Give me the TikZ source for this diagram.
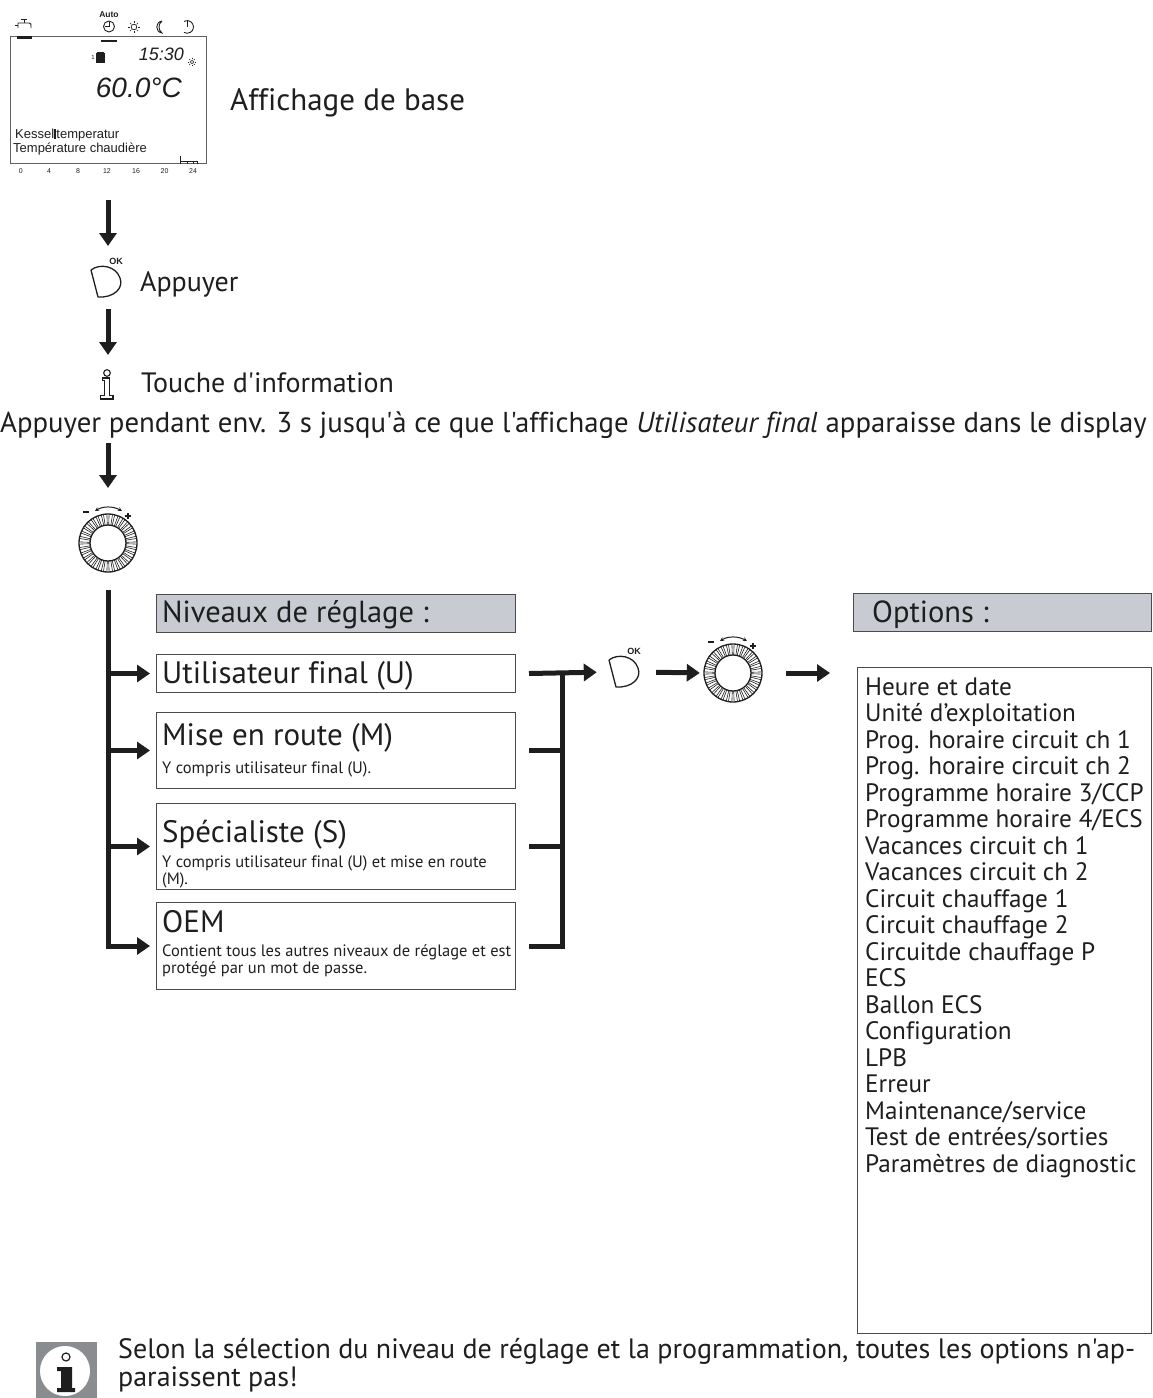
\documentclass[tikz,border=0pt]{standalone}
\usepackage{fontspec}
\setmainfont{PT Sans}[Ligatures={TeXOff,CommonOff}]
\newfontfamily\dispfont{Liberation Sans}
\usetikzlibrary{arrows.meta}
\definecolor{hdrgray}{RGB}{200,204,210}
\definecolor{icongray}{RGB}{138,141,144}
\definecolor{ink}{RGB}{30,30,30}
\newcommand\fs[1]{\fontsize{#1}{#1}\selectfont}
\tikzset{
  bigarrow/.style={draw=ink, line width=5pt, -{Triangle[length=13pt,width=17pt]}},
  barline/.style={draw=ink, line width=5pt},
  lvlbox/.style={draw=ink!80, line width=1pt, anchor=north west, inner sep=0pt, minimum width=359pt},
  hdrbox/.style={lvlbox, fill=hdrgray, minimum height=38pt},
  txt/.style={inner sep=0pt, anchor=base west, text=ink},
  big/.style={txt, font=\fs{28}},
  hdr/.style={txt, font=\fs{30.5}},
  ttl/.style={txt, font=\fs{31}},
  sub/.style={txt, font=\fs{16.5}},
  opt/.style={txt, font=\fs{25.2}},
  disptxt/.style={inner sep=0pt, text=ink, font=\dispfont\fs{13}},
  axis/.style={inner sep=0pt, text=ink, font=\dispfont\fs{7}},
  icon/.style={draw=ink, line width=0.9pt},
  dialpic/.pic={
    \draw[ink, line width=1.3pt] (0,0) circle (29);
    \draw[ink, line width=1.3pt] (0,0) circle (18);
    \foreach \a in {0,11.25,...,359} {
      \draw[ink, line width=0.6pt] (\a-2.2:18) -- (\a-2.2:29);
      \draw[ink, line width=0.6pt] (\a+2.2:18) -- (\a+2.2:29);
    }
    \draw[ink, line width=1pt, {Stealth[length=4pt,width=4pt]}-{Stealth[length=4pt,width=4pt]}]
      (-13,-32) .. controls (-5,-37) and (5,-37) .. (14,-32);
    \draw[ink, line width=1.8pt] (-25,-31) -- (-19,-31);
    \draw[ink, line width=1.2pt] (17,-27) -- (23,-27) (20,-30) -- (20,-24);
  },
  okpic/.pic={
    \draw[ink, line width=1.3pt, line join=round]
      (-15,-12) .. controls (-6,-19) and (10,-16) .. (14,-4)
      .. controls (18,6) and (8,16) .. (-8,15) -- (-15,-12);
    \node[inner sep=0pt, text=ink, font=\dispfont\bfseries\fs{9}] at (10,-21) {OK};
  }
}
\begin{document}
\begin{tikzpicture}[x=1pt,y=-1pt]
\useasboundingbox (0,0) rectangle (1152,1398);

% ---------------- display ----------------
\node[draw=ink!70, line width=1.2pt, minimum width=196pt, minimum height=127pt,
      anchor=north west, inner sep=0pt] (disp) at (10,36) {};
% top icons
\draw[icon] (18,28) -- (18,23) -- (29,23) .. controls (31,23) and (31,24) .. (31,26) -- (31,28);
\draw[icon] (21,19) -- (27,19) (24,19) -- (24,23) (18,25) -- (15,25);
\draw[ink, line width=2.5pt] (17,37.5) -- (32,37.5);
\node[inner sep=0pt, text=ink, font=\dispfont\bfseries\fs{8.5}] (auto) at (109,15) {Auto};
\draw[icon] (109,26.5) circle (5.5);
\draw[icon] (109,26.5) -- (109,22) (109,26.5) -- (105,26.5);
\draw[ink, line width=2.5pt] (101,41) -- (117,41);
\draw[ink, line width=0.7pt] (134,27) circle (2.8);
\foreach \a in {0,45,...,315} \draw[ink, line width=0.7pt] (134,27) ++(\a:3.8) -- ++(\a:1.8);
\draw[icon] (162,21) .. controls (155,22) and (155,32) .. (162,33)
            .. controls (158,30) and (158,24) .. (162,21);
\draw[icon] (184,21.5) arc (-120:120:6.3);
\draw[icon] (187.5,19.5) -- (187.5,26.5);
% inside display
\node[inner sep=0pt, text=ink, font=\dispfont\fs{6}] (one) at (93,57) {1};
\fill[ink] (96,53) rectangle (105,63);
\fill[ink] (97,52) rectangle (104,53);
\node[inner sep=0pt, anchor=base east, text=ink, font=\dispfont\itshape\fs{18}] (time) at (184,60) {15:30};
\draw[ink, line width=0.6pt] (192,62) circle (1.8);
\foreach \a in {0,45,...,315} \draw[ink, line width=0.5pt] (192,62) ++(\a:2.6) -- ++(\a:1.4);
\node[inner sep=0pt, anchor=base east, text=ink, font=\dispfont\itshape\fs{28}] (temp) at (182,97) {60.0°C};
\node[disptxt, anchor=base west] (kessel) at (15,138) {Kessel\rule[-0.5pt]{2.2pt}{10pt}temperatur};
\node[disptxt, anchor=base west] (tchaud) at (13,152) {Température chaudière};
\draw[ink, line width=0.8pt] (180,156) -- (180,164) (180,161) -- (197,161)
   (187,161) -- (187,164) (193,161) -- (193,164) (197,161) -- (197,164);
\foreach \v/\xx in {0/20.7,4/49,8/78,12/107,16/136,20/164.5,24/193}
  \node[axis] (ax\v) at (\xx,171) {\v};

\node[txt, font=\fs{31}] (affbase) at (230,110) {Affichage de base};

% ---------------- steps ----------------
\coordinate (a1s) at (108,200);
\coordinate (a1e) at (108,246);
\draw[bigarrow] (a1s) -- (a1e);
\node[minimum width=32pt, minimum height=34pt, inner sep=0pt] (ok1) at (106,282) {};
\pic at (ok1) {okpic};
\node[big] (appuyer) at (140,291) {Appuyer};
\coordinate (a2s) at (108,309);
\coordinate (a2e) at (108,355);
\draw[bigarrow] (a2s) -- (a2e);
% info key
\node[minimum width=14pt, minimum height=30pt, inner sep=0pt] (infokey) at (107,385) {};
\draw[ink, line width=1.1pt] (107,373) circle (3.3);
\draw[ink, line width=1.1pt, line join=miter]
  (102.7,378) -- (109.3,378) -- (109.3,395.5) -- (113,395.5) -- (113,399) -- (100.7,399)
  -- (100.7,395.5) -- (104.5,395.5) -- (104.5,380.5) -- (102.7,380.5) -- cycle;
\node[big] (touche) at (141,392) {Touche d'information};
\node[txt, font=\fs{28.8}] (longline) at (0,432) {Appuyer pendant env. 3 s jusqu'à ce que l'affichage \textit{Utilisateur final} apparaisse dans le display};
\coordinate (a3s) at (108,443);
\coordinate (a3e) at (108,488);
\draw[bigarrow] (a3s) -- (a3e);
\node[circle, minimum size=58pt, inner sep=0pt] (dial1) at (108,543) {};
\pic at (dial1) {dialpic};

% ---------------- levels ----------------
\node[hdrbox] (hdr1) at (156,594) {};
\node[hdr] (hdr1t) at (162,622) {Niveaux de réglage :};
\node[lvlbox, minimum height=38pt] (bu) at (156,654) {};
\node[ttl] (but) at (162,683) {Utilisateur final (U)};
\node[lvlbox, minimum height=76pt] (bm) at (156,712) {};
\node[ttl] (bmt) at (162,745) {Mise en route (M)};
\node[sub] (bms) at (162,773) {Y compris utilisateur final (U).};
\node[lvlbox, minimum height=86pt] (bs) at (156,803) {};
\node[ttl] (bst) at (162,842) {Spécialiste (S)};
\node[sub] (bss1) at (162,867.5) {Y compris utilisateur final (U) et mise en route};
\node[sub] (bss2) at (162,884) {(M).};
\node[lvlbox, minimum height=87pt] (bo) at (156,902) {};
\node[ttl] (bot) at (162,932) {OEM};
\node[sub] (bos1) at (162,956.5) {Contient tous les autres niveaux de réglage et est};
\node[sub] (bos2) at (162,973) {protégé par un mot de passe.};

% left tree
\coordinate (lvtop) at (108,590);
\draw[bigarrow, shorten >=6pt] (lvtop) |- (bo.west);
\draw[bigarrow, shorten >=6pt] (lvtop |- bu.west) -- (bu.west);
\draw[bigarrow, shorten >=6pt] (lvtop |- bm.west) -- (bm.west);
\draw[bigarrow, shorten >=6pt] (lvtop |- bs.west) -- (bs.west);

% right tree
\coordinate (rj) at (562,673);
\draw[barline] ([xshift=13pt]bo.east) -| (rj);
\draw[barline] ([xshift=13pt]bm.east) -- (bm.east -| rj);
\draw[barline] ([xshift=13pt]bs.east) -- (bs.east -| rj);
\node[minimum width=32pt, minimum height=34pt, inner sep=0pt] (ok2) at (624,672) {};
\pic at (ok2) {okpic};
\draw[bigarrow, shorten >=11pt] ([xshift=13pt]bu.east) -- (ok2.west);
\node[circle, minimum size=58pt, inner sep=0pt] (dial2) at (733,673) {};
\pic at (dial2) {dialpic};
\draw[bigarrow, shorten <=16pt, shorten >=4pt] (ok2.east) -- (dial2.west);
\coordinate (optarrow) at (830,673);
\draw[bigarrow, shorten <=24pt] (dial2.east) -- (optarrow);

% ---------------- options ----------------
\node[hdrbox, minimum width=298pt] (hdr2) at (853,593) {};
\node[hdr] (hdr2t) at (872,622) {Options :};
\node[draw=ink!80, line width=1pt, anchor=north west, inner sep=0pt,
      minimum width=294pt, minimum height=666pt] (optbox) at (857,667) {};
\foreach \t [count=\i] in {Heure et date, Unité d’exploitation, Prog. horaire circuit ch 1,
  Prog. horaire circuit ch 2, Programme horaire 3/CCP, Programme horaire 4/ECS,
  Vacances circuit ch 1, Vacances circuit ch 2, Circuit chauffage 1, Circuit chauffage 2,
  Circuitde chauffage P, ECS, Ballon ECS, Configuration, LPB, Erreur,
  Maintenance/service, Test de entrées/sorties, Paramètres de diagnostic}
  \node[opt] (o\i) at (865,{695+26.5*(\i-1)}) {\t};

% ---------------- note ----------------
\node[fill=icongray, minimum width=61pt, minimum height=56pt, inner sep=0pt, anchor=north west] (noteicon) at (36,1342) {};
\fill[white] (65,1371) circle (25);
\draw[ink, line width=1.2pt] (66,1357) circle (4);
\fill[ink] (57,1367) -- (72,1367) -- (72,1388) -- (75,1388) -- (75,1392) -- (57,1392)
  -- (57,1388) -- (61,1388) -- (61,1371) -- (57,1371) -- cycle;
\node[big] (note1) at (118,1358) {Selon la sélection du niveau de réglage et la programmation, toutes les options n'ap-};
\node[big] (note2) at (118,1386) {paraissent pas!};
\end{tikzpicture}
\end{document}
